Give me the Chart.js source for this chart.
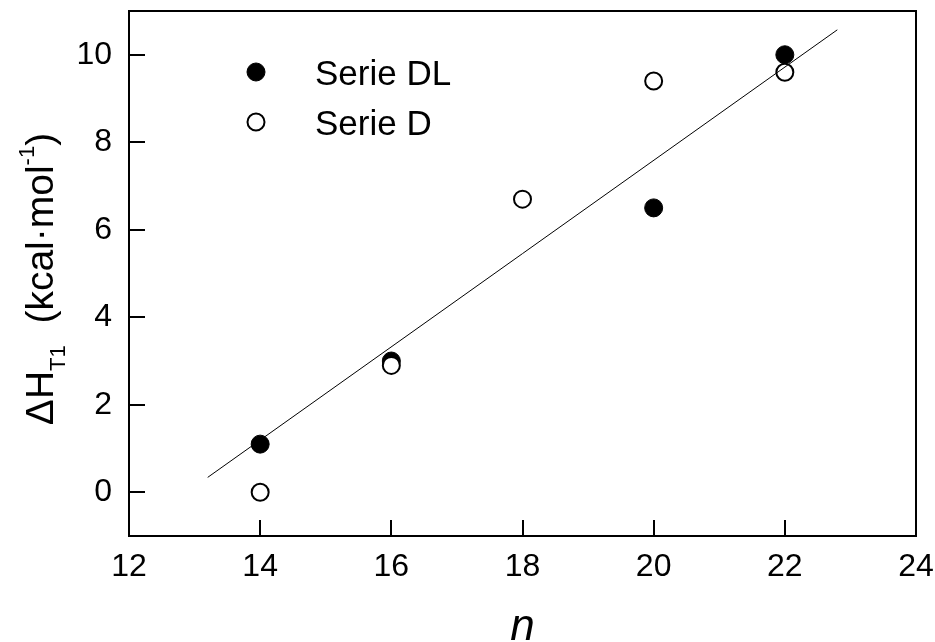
<!DOCTYPE html>
<html>
<head>
<meta charset="utf-8">
<script src="https://cdn.jsdelivr.net/npm/chart.js@4.4.1/dist/chart.umd.min.js"></script>
<style>
  html, body { margin: 0; padding: 0; background: #fff; }
  #wrap { width: 935px; height: 642px; }
</style>
</head>
<body>
<div id="wrap"><canvas id="grafico"></canvas></div>
<script>
// Serie DL (círculos cheios) e Serie D (círculos vazios)
const nDL = [14, 16, 20, 22];
const hDL = [1.1, 3.0, 6.5, 10.0];
const nD = [14, 16, 18, 20, 22];
const hD = [0.0, 2.9, 6.7, 9.4, 9.6];
// reta de ajuste (extremos)
const ajusteN = [13.2, 22.8];
const ajusteH = [0.34, 10.57];
// rótulos dos eixos
const ticksX = [12, 14, 16, 18, 20, 22, 24];
const ticksY = [0, 2, 4, 6, 8, 10];

const fonte = '"Liberation Sans", Arial, sans-serif';
const pontos = (xs, ys) => xs.map((x, i) => ({ x: x, y: ys[i] }));

const moldura = {
    id: 'moldura',
    afterDraw(chart) {
        const ctx = chart.ctx;
        const a = chart.chartArea;
        const sx = chart.scales.x;
        const sy = chart.scales.y;
        ctx.save();
        ctx.strokeStyle = '#000';
        ctx.lineWidth = 2;
        ctx.strokeRect(a.left, a.top, a.right - a.left, a.bottom - a.top);

        // marcas para dentro
        ctx.beginPath();
        sx.ticks.forEach(t => {
            if (t.value <= sx.min || t.value >= sx.max) return;
            const px = Math.round(sx.getPixelForValue(t.value));
            const len = ticksX.includes(t.value) ? 16 : 8;
            ctx.moveTo(px, a.bottom);
            ctx.lineTo(px, a.bottom - len);
        });
        sy.ticks.forEach(t => {
            if (t.value <= sy.min || t.value >= sy.max) return;
            const py = Math.round(sy.getPixelForValue(t.value));
            const len = ticksY.includes(t.value) ? 16 : 8;
            ctx.moveTo(a.left, py);
            ctx.lineTo(a.left + len, py);
        });
        ctx.stroke();

        // legenda
        const legenda = [chart.data.datasets[2], chart.data.datasets[1]];
        legenda.forEach((ds, i) => {
            const cy = a.top + 61 + i * 50;
            const cx = a.left + 127;
            ctx.beginPath();
            ctx.arc(cx, cy, ds.pointRadius, 0, Math.PI * 2);
            ctx.fillStyle = ds.backgroundColor;
            ctx.fill();
            ctx.lineWidth = ds.borderWidth;
            ctx.strokeStyle = ds.borderColor;
            ctx.stroke();
            ctx.fillStyle = '#000';
            ctx.font = '35px ' + fonte;
            ctx.textAlign = 'left';
            ctx.textBaseline = 'middle';
            ctx.fillText(ds.label, a.left + 186, cy + 3);
        });

        // título do eixo y: ΔH_T1 (kcal·mol^-1)
        const F = 39, f = 22;
        const partes = [
            { t: 'ΔH', s: F, dy: 0 },
            { t: 'T1', s: f, dy: 12 },
            { t: '  (kcal·mol', s: F, dy: 0 },
            { t: '-1', s: f, dy: -19 },
            { t: ')', s: F, dy: 0 }
        ];
        let total = 0;
        partes.forEach(p => {
            ctx.font = p.s + 'px ' + fonte;
            p.w = ctx.measureText(p.t).width;
            total += p.w;
        });
        ctx.translate(53, 279);
        ctx.rotate(-Math.PI / 2);
        ctx.textAlign = 'left';
        ctx.textBaseline = 'alphabetic';
        let x0 = -total / 2;
        partes.forEach(p => {
            ctx.font = p.s + 'px ' + fonte;
            ctx.fillText(p.t, x0, p.dy);
            x0 += p.w;
        });
        ctx.setTransform(1, 0, 0, 1, 0, 0);

        // título do eixo x
        ctx.font = 'italic 44px ' + fonte;
        ctx.textAlign = 'center';
        ctx.textBaseline = 'alphabetic';
        ctx.fillText('n', (a.left + a.right) / 2, 640);
        ctx.restore();
    }
};

new Chart(document.getElementById('grafico').getContext('2d'), {
    type: 'scatter',
    data: {
        datasets: [{
            type: 'line',
            label: 'ajuste',
            data: pontos(ajusteN, ajusteH),
            borderColor: '#000',
            borderWidth: 1,
            pointRadius: 0,
            fill: false
        }, {
            label: 'Serie D',
            data: pontos(nD, hD),
            backgroundColor: '#fff',
            borderColor: '#000',
            borderWidth: 2,
            pointRadius: 8.5
        }, {
            label: 'Serie DL',
            data: pontos(nDL, hDL),
            backgroundColor: '#000',
            borderColor: '#000',
            borderWidth: 1,
            pointRadius: 9
        }]
    },
    options: {
        responsive: true,
        maintainAspectRatio: false,
        animation: false,
        events: [],
        layout: { padding: { left: 0, top: 11, right: 19, bottom: 0 } },
        plugins: {
            legend: { display: false },
            tooltip: { enabled: false }
        },
        scales: {
            x: {
                type: 'linear',
                min: 12,
                max: 24,
                afterFit: s => { s.height = 106; s.paddingLeft = 0; s.paddingRight = 0; },
                grid: { drawOnChartArea: false, drawTicks: false },
                border: { display: false },
                ticks: {
                    stepSize: 1,
                    autoSkip: false,
                    maxRotation: 0,
                    padding: 12,
                    color: '#000',
                    font: { family: fonte, size: 32 },
                    callback: v => ticksX.includes(v) ? String(v) : null
                }
            },
            y: {
                type: 'linear',
                min: -1,
                max: 11,
                afterFit: s => { s.width = 129; s.paddingTop = 0; s.paddingBottom = 0; },
                grid: { drawOnChartArea: false, drawTicks: false },
                border: { display: false },
                ticks: {
                    stepSize: 1,
                    autoSkip: false,
                    padding: 17,
                    color: '#000',
                    font: { family: fonte, size: 32 },
                    callback: v => ticksY.includes(v) ? String(v) : null
                }
            }
        }
    },
    plugins: [moldura]
});
</script>
</body>
</html>
